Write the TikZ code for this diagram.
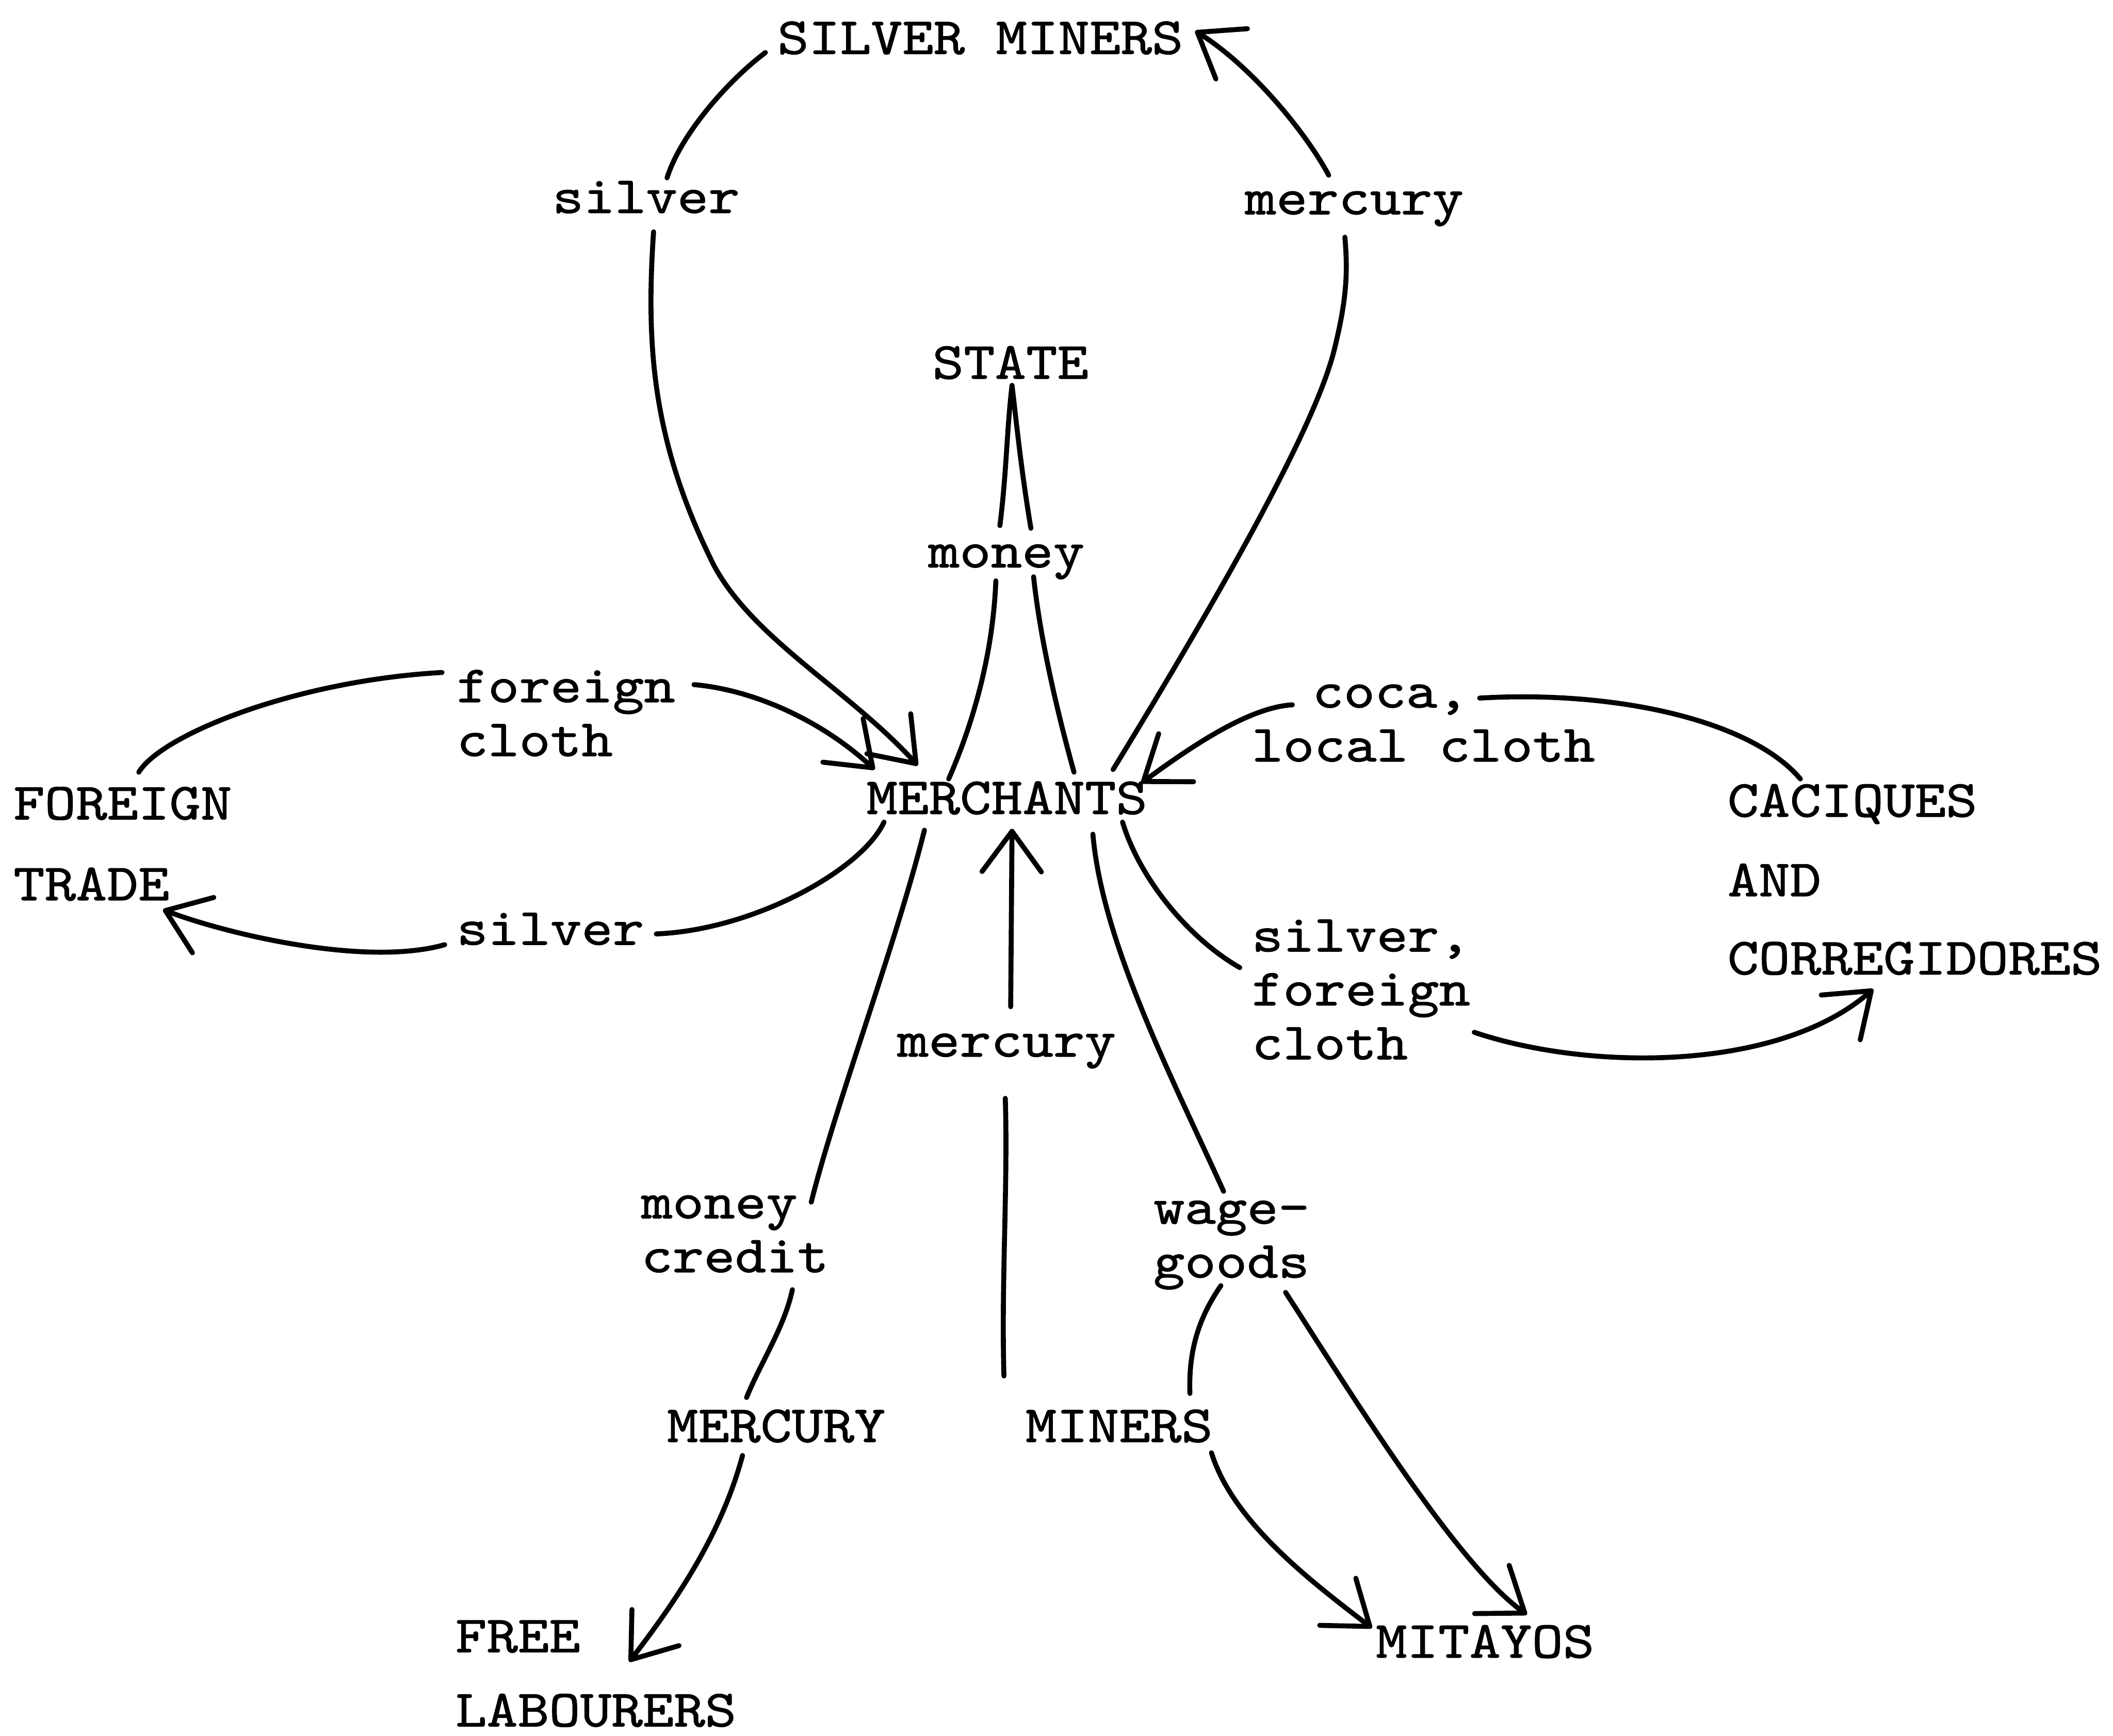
\documentclass[tikz,border=0pt]{standalone}
\usepackage{fontspec}
\newfontfamily\tw{Latin Modern Mono}[FakeStretch=1.14,FakeBold=1.2]
\usetikzlibrary{arrows.meta}
\begin{document}
\begin{tikzpicture}[x=0.01cm,y=-0.01cm,
  lbl/.style={anchor=base west, inner sep=0pt, outer sep=0pt, font=\tw\fontsize{11}{13}\selectfont},
  flow/.style={line width=1.05pt, line cap=round, line join=round},
  arr/.style={flow, -{Straight Barb[length=3mm,width=4.4mm,round]}}
]
\useasboundingbox (0,0) rectangle (1568,1288);
% ---------- labels ----------
\node[lbl] (sm)    at (577,40)   {SILVER MINERS};
\node[lbl] (silT)  at (410,158)  {silver};
\node[lbl] (merT)  at (924,159)  {mercury};
\node[lbl] (state) at (692,281)  {STATE};
\node[lbl] (money) at (689,421)  {money};
\node[lbl] (fc1)   at (339,521)  {foreign};
\node[lbl] (fc2)   at (339,561)  {cloth};
\node[lbl] (ft1)   at (10,608)   {FOREIGN};
\node[lbl] (ft2)   at (10,668)   {TRADE};
\node[lbl] (merch) at (643,604)  {MERCHANTS};
\node[lbl] (silL)  at (339,701)  {silver};
\node[lbl] (coca1) at (974,525)  {coca,};
\node[lbl] (coca2) at (929,565)  {local cloth};
\node[lbl] (cac1)  at (1282,606) {CACIQUES};
\node[lbl] (cac2)  at (1282,665) {AND};
\node[lbl] (cac3)  at (1282,723) {CORREGIDORES};
\node[lbl] (sfc1)  at (929,706)  {silver,};
\node[lbl] (sfc2)  at (929,746)  {foreign};
\node[lbl] (sfc3)  at (929,786)  {cloth};
\node[lbl] (merM)  at (666,784)  {mercury};
\node[lbl] (mc1)   at (476,904)  {money};
\node[lbl] (mc2)   at (476,944)  {credit};
\node[lbl] (wg1)   at (856,908)  {wage-};
\node[lbl] (wg2)   at (856,948)  {goods};
\node[lbl] (mercu) at (495,1070) {MERCURY};
\node[lbl] (miner) at (761,1070) {MINERS};
\node[lbl] (fl1)   at (338,1226) {FREE};
\node[lbl] (fl2)   at (338,1281) {LABOURERS};
\node[lbl] (mit)   at (1021,1230) {MITAYOS};
% ---------- connector ends ----------
\coordinate (a1) at (568,39);   \coordinate (a2) at (495,132);
\coordinate (a3) at (485,172);  \coordinate (a4) at (681,568);
\coordinate (b1) at (826,571);  \coordinate (b2) at (998,176);
\coordinate (b3) at (986,130);  \coordinate (b4) at (887,23);
\coordinate (s1) at (751,286);  \coordinate (s2) at (742,390);
\coordinate (s3) at (765,392);  \coordinate (s4) at (739,431);
\coordinate (s5) at (704,578);  \coordinate (s6) at (767,428);
\coordinate (s7) at (797,573);
\coordinate (f1) at (103,573);  \coordinate (f2) at (328,499);
\coordinate (f3) at (515,508);  \coordinate (f4) at (649,571);
\coordinate (g1) at (656,610);  \coordinate (g2) at (487,693);
\coordinate (g3) at (330,701);  \coordinate (g4) at (121,675);
\coordinate (c1) at (1336,578); \coordinate (c2) at (1098,518);
\coordinate (c3) at (959,523);  \coordinate (c4) at (847,581);
\coordinate (d1) at (833,610);  \coordinate (d2) at (920,718);
\coordinate (d3) at (1094,766); \coordinate (d4) at (1390,734);
\coordinate (m1) at (745,1021); \coordinate (m2) at (746,815);
\coordinate (m3) at (750,747);  \coordinate (m4) at (751,615);
\coordinate (k1) at (686,616);  \coordinate (k2) at (602,892);
\coordinate (k3) at (588,957);  \coordinate (k4) at (554,1037);
\coordinate (k5) at (551,1080); \coordinate (k6) at (467,1233);
\coordinate (w1) at (811,619);  \coordinate (w2) at (908,884);
\coordinate (w3) at (906,954);  \coordinate (w4) at (883,1034);
\coordinate (w5) at (954,959);  \coordinate (w6) at (1133,1198);
\coordinate (w7) at (899,1078); \coordinate (w8) at (1018,1208);
% ---------- connectors ----------
% silver: silver miners -> merchants
\draw[flow] (a1) .. controls (540,60) and (505,100) .. (a2);
\draw[arr] (a3) .. controls (479,260) and (485,330) .. (530,420) .. controls (560,475) and (630,512) .. (a4);
% mercury: merchants -> silver miners
\draw[flow] (b1) .. controls (900,450) and (975,320) .. (990,260) .. controls (1000,220) and (1000,200) .. (b2);
\draw[arr] (b3) .. controls (970,100) and (930,50) .. (b4);
% money: state - merchants
\draw[flow] (s1) .. controls (747,320) and (747,350) .. (s2);
\draw[flow] (s1) .. controls (755,320) and (758,350) .. (s3);
\draw[flow] (s4) .. controls (737,480) and (725,530) .. (s5);
\draw[flow] (s6) .. controls (772,475) and (785,530) .. (s7);
% foreign cloth: foreign trade -> merchants
\draw[flow] (f1) .. controls (120,545) and (220,505) .. (f2);
\draw[arr] (f3) .. controls (560,512) and (610,535) .. (f4);
% silver: merchants -> foreign trade
\draw[flow] (g1) .. controls (640,645) and (560,690) .. (g2);
\draw[arr] (g3) .. controls (270,718) and (165,692) .. (g4);
% coca, local cloth: caciques -> merchants
\draw[flow] (c1) .. controls (1300,535) and (1200,512) .. (c2);
\draw[arr] (c3) .. controls (925,525) and (880,557) .. (c4);
% silver, foreign cloth: merchants -> corregidores
\draw[flow] (d1) .. controls (845,650) and (880,695) .. (d2);
\draw[arr] (d3) .. controls (1180,795) and (1320,795) .. (d4);
% mercury: -> merchants
\draw[flow] (m1) .. controls (743,950) and (748,880) .. (m2);
\draw[arr] (m3) -- (m4);
% money credit: merchants - mercury -> free labourers
\draw[flow] (k1) .. controls (665,700) and (620,820) .. (k2);
\draw[flow] (k3) .. controls (582,985) and (565,1010) .. (k4);
\draw[arr] (k5) .. controls (535,1140) and (500,1190) .. (k6);
% wage-goods: merchants - miners / mitayos
\draw[flow] (w1) .. controls (818,700) and (870,800) .. (w2);
\draw[flow] (w3) .. controls (888,980) and (882,1005) .. (w4);
\draw[arr] (w5) .. controls (1000,1030) and (1080,1160) .. (w6);
\draw[arr] (w7) .. controls (915,1130) and (975,1175) .. (w8);
\end{tikzpicture}
\end{document}
